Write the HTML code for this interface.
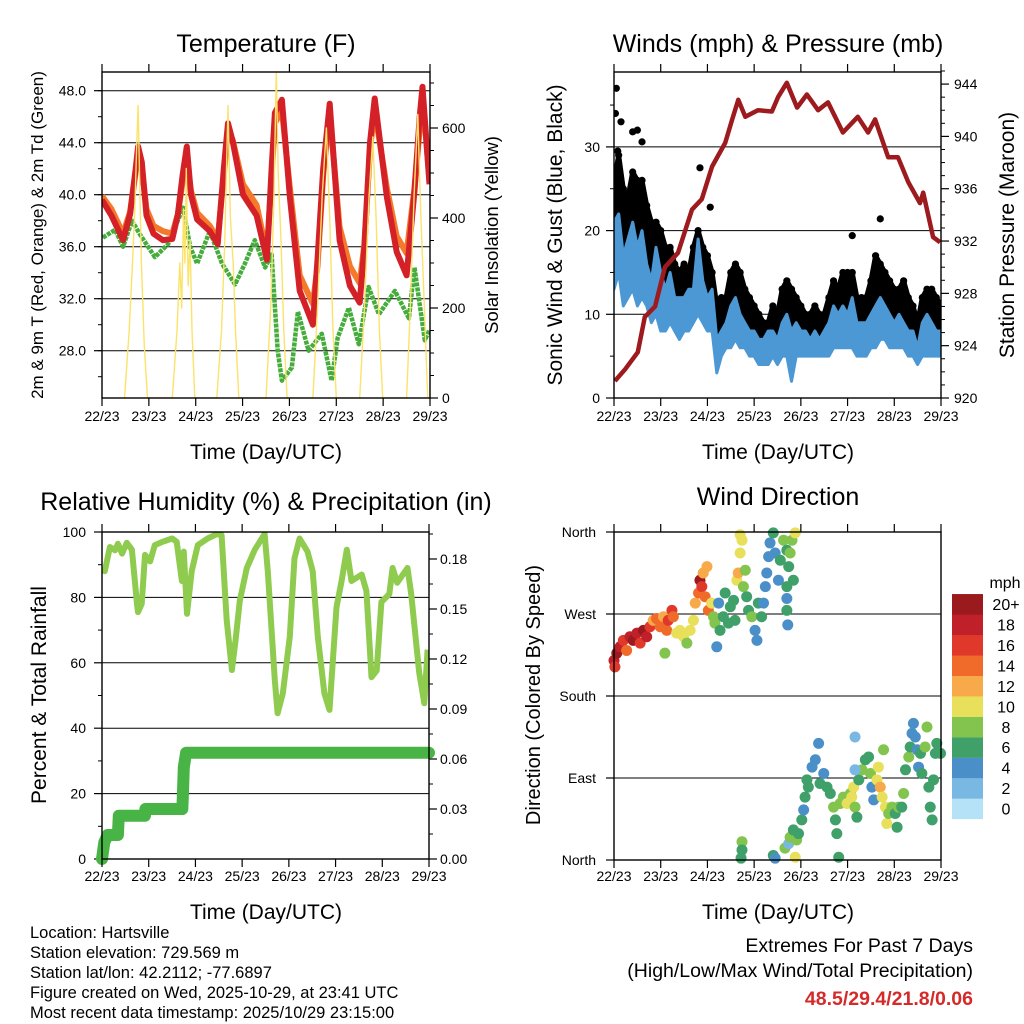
<!DOCTYPE html>
<html><head><meta charset="utf-8"><style>
html,body{margin:0;padding:0;background:#fff;}
svg{display:block;font-family:"Liberation Sans",Arial,sans-serif;}
</style></head><body>
<svg id="c" width="1024" height="1024" viewBox="0 0 1024 1024" xmlns="http://www.w3.org/2000/svg">
<defs>
<clipPath id="cp1"><rect x="102" y="72" width="328" height="326"/></clipPath>
<clipPath id="cp2"><rect x="614" y="72" width="327" height="326"/></clipPath>
<clipPath id="cp3"><rect x="102" y="532" width="327" height="327"/></clipPath>
<clipPath id="cp4"><rect x="608" y="526" width="339" height="340"/></clipPath>
</defs>
<text x="266" y="52" font-size="25" text-anchor="middle">Temperature (F)</text>
<text x="778" y="52" font-size="25" text-anchor="middle">Winds (mph) &amp; Pressure (mb)</text>
<text x="266" y="510" font-size="25" text-anchor="middle">Relative Humidity (%) &amp; Precipitation (in)</text>
<text x="778" y="505" font-size="25" text-anchor="middle">Wind Direction</text>
<text x="266" y="459" font-size="21" text-anchor="middle">Time (Day/UTC)</text>
<text x="778" y="459" font-size="21" text-anchor="middle">Time (Day/UTC)</text>
<text x="266" y="919" font-size="21" text-anchor="middle">Time (Day/UTC)</text>
<text x="778" y="919" font-size="21" text-anchor="middle">Time (Day/UTC)</text>
<text transform="translate(43,235) rotate(-90)" font-size="17" text-anchor="middle">2m &amp; 9m T (Red, Orange) &amp; 2m Td (Green)</text>
<text transform="translate(498,235) rotate(-90)" font-size="18.5" text-anchor="middle">Solar Insolation (Yellow)</text>
<text transform="translate(562,235) rotate(-90)" font-size="21" text-anchor="middle">Sonic Wind &amp; Gust (Blue, Black)</text>
<text transform="translate(1014,235) rotate(-90)" font-size="21" text-anchor="middle">Station Pressure (Maroon)</text>
<text transform="translate(46,695) rotate(-90)" font-size="21" text-anchor="middle">Percent &amp; Total Rainfall</text>
<text transform="translate(540,695) rotate(-90)" font-size="20" text-anchor="middle">Direction (Colored By Speed)</text>
<g font-size="16.5">
<text x="30" y="938">Location: Hartsville</text>
<text x="30" y="958">Station elevation: 729.569 m</text>
<text x="30" y="978">Station lat/lon: 42.2112; -77.6897</text>
<text x="30" y="998">Figure created on Wed, 2025-10-29, at 23:41 UTC</text>
<text x="30" y="1018">Most recent data timestamp: 2025/10/29 23:15:00</text>
</g>
<text x="973" y="952" font-size="19.5" text-anchor="end">Extremes For Past 7 Days</text>
<text x="973" y="977" font-size="19.5" text-anchor="end">(High/Low/Max Wind/Total Precipitation)</text>
<text x="973" y="1005" font-size="19.5" font-weight="bold" fill="#d42a2a" text-anchor="end">48.5/29.4/21.8/0.06</text>
<text x="1005" y="588" font-size="16" text-anchor="middle">mph</text>
</svg>
<script>
// ---------- data ----------
const dayLabels=["22/23","23/23","24/23","25/23","26/23","27/23","28/23","29/23"];
const tempTicks=[28,32,36,40,44,48];
const solarTicks=[0,200,400,600];
const windTicks=[0,10,20,30];
const pressTicks=[920,924,928,932,936,940,944];
const rhTicks=[0,20,40,60,80,100];
const precipTicks=[0,0.03,0.06,0.09,0.12,0.15,0.18];
const dirTickVals=[0,90,180,270,360];
const dirTickLabels=["North","East","South","West","North"];
const speedLabels=["0","2","4","6","8","10","12","14","16","18","20+"];
const speedColors=["#b6e2f8","#7ab8e4","#4a8fc8","#3fa06a","#82c44e","#e8e05a","#f8a94a","#f06a2a","#e0392b","#c0202a","#9b1a1d"];

const tempT=[0,0.2,0.45,0.6,0.72,0.77,0.85,0.95,1.1,1.3,1.5,1.62,1.72,1.81,1.9,2.03,2.3,2.47,2.6,2.69,2.79,3.01,3.3,3.52,3.62,3.69,3.84,4.01,4.22,4.5,4.6,4.72,4.86,5.07,5.29,5.5,5.6,5.72,5.82,6.08,6.29,6.5,6.67,6.78,6.84,6.99];
const temp2m=[39.6,38.4,36.5,38.5,42,43.7,42.5,38.4,37,36.5,36.6,38.5,41.5,43.7,40,38.1,37.2,36.2,42,45.5,44.1,40.0,38.4,35,42,46.3,47.3,39.8,32.6,30,35,42,47,36.5,33,31.7,36,44,47.4,39.8,35.6,33.8,40.3,46,48.3,40.8];
const temp9m=[39.9,38.9,37,38.7,41.8,42.8,42,38.9,37.6,37.2,37,38.5,41,42.5,40.3,38.6,37.6,36.6,41.5,45,44.2,40.8,39.2,35.5,41.5,45.5,46.5,40.5,33.8,31.6,34.5,41.5,46.3,37.5,34.5,33.2,36.2,43.5,46.5,40.5,36.8,35.5,40.5,45,47.8,41];
const dewT=[0.02,0.28,0.45,0.64,0.8,1.13,1.41,1.73,1.88,2.03,2.3,2.56,2.84,3.05,3.26,3.48,3.62,3.75,3.84,4.05,4.18,4.41,4.69,4.9,5.03,5.27,5.48,5.69,5.91,6.25,6.55,6.67,6.89,6.99];
const dewV=[36.7,37.3,36,38,37,35.2,36.2,39,36,34.7,37.2,34.7,33.1,34.7,36.5,34.4,35.4,28,25.7,26.7,31,28,29.3,25.7,29,31.3,28.5,32.9,30.8,32.6,30.5,34.4,28.8,29.6];
const solarT=[0.48,0.58,0.65,0.7,0.74,0.77,0.8,0.84,0.9,0.97,1.5,1.6,1.66,1.7,1.74,1.77,1.8,1.84,1.88,1.92,1.98,2.45,2.55,2.62,2.69,2.74,2.8,2.85,2.92,3.5,3.6,3.67,3.72,3.76,3.82,3.88,3.95,4.5,4.6,4.7,4.79,4.86,4.93,5.0,5.5,5.6,5.7,5.78,5.85,5.92,5.99,6.5,6.58,6.66,6.74,6.8,6.88,6.95];
const solarV=[0,150,300,420,560,650,500,300,120,0,0,150,300,200,420,300,510,250,350,150,0,0,150,350,650,400,300,150,0,0,200,450,730,500,350,150,0,0,200,450,600,400,150,0,0,200,450,580,400,150,0,0,200,450,630,420,200,0];

const pressT=[0.02,0.24,0.51,0.66,0.88,1.09,1.37,1.67,1.88,2.1,2.38,2.53,2.66,2.81,3.08,3.38,3.51,3.7,3.92,4.13,4.37,4.58,4.9,5.22,5.44,5.59,5.87,6.08,6.3,6.55,6.62,6.83,6.98];
const pressV=[921.3,922.2,923.5,926.2,927,930,931.1,934.4,935.2,937.7,939.5,941.3,942.8,941.5,942,941.9,943,944.1,942.2,943.2,942,942.6,940.3,941.5,940.3,941.3,938.4,938.4,936.5,934.9,935.7,932.3,931.9];
const windT=[0,0.1,0.2,0.3,0.4,0.5,0.6,0.7,0.8,0.9,1.0,1.1,1.2,1.3,1.4,1.5,1.6,1.7,1.8,1.9,2.0,2.1,2.2,2.3,2.4,2.5,2.6,2.7,2.8,2.9,3.0,3.1,3.2,3.3,3.4,3.5,3.6,3.7,3.8,3.9,4.0,4.1,4.2,4.3,4.4,4.5,4.6,4.7,4.8,4.9,5.0,5.1,5.2,5.3,5.4,5.5,5.6,5.7,5.8,5.9,6.0,6.1,6.2,6.3,6.4,6.5,6.6,6.7,6.8,6.9,7.0];
const windHi=[21,22,17,19,21,18,20,16,14,18,15,13,15,12,12,12,13,13,19,14,12,13,7,8,9,11,12,10,9,8,8,7,7,8,8,7,9,10,8,9,8,8,7,8,7,8,9,11,10,11,10,12,9,9,9,10,11,12,11,10,9,10,9,8,8,6,9,10,9,8,8];
const windLo=[13,15,11,12,13,11,12,11,9,10,8,8,9,8,7,8,8,9,10,9,8,8,3,5,6,6,7,6,6,5,5,4,4,4,5,4,5,5,2,5,5,5,5,5,5,5,5,6,6,6,6,6,5,5,5,6,6,7,7,6,6,6,6,5,5,4,5,5,5,5,5];
const gustHi=[26,29,25,24,27,26,26,23,21,21,20,18,18,16,15,16,15,18,20,18,17,15,11,12,12,15,16,15,13,12,11,10,9,9,11,10,13,14,13,12,11,10,10,11,10,10,12,14,13,15,15,15,12,12,12,14,17,16,15,14,13,13,14,12,11,9,12,13,13,12,11];
const gustOutT=[0.05,0.03,0.08,0.4,0.6,1.84,2.06,5.7,5.1,0.15,0.5];
const gustOutV=[37,34,29.5,31.8,30.6,27.5,22.8,21.4,19.4,33,32];

const rhT=[0,0.06,0.17,0.28,0.34,0.43,0.53,0.64,0.75,0.77,0.85,0.92,1.03,1.13,1.28,1.5,1.6,1.71,1.75,1.82,1.92,2.05,2.26,2.46,2.56,2.67,2.78,2.86,2.95,3.1,3.27,3.48,3.55,3.7,3.76,3.87,4.02,4.12,4.23,4.4,4.51,4.62,4.76,4.87,5.02,5.13,5.24,5.34,5.56,5.66,5.77,5.88,5.98,6.15,6.22,6.32,6.54,6.62,6.79,6.9,6.97];
const rhV=[88.4,88,95.4,94.4,96.4,93.4,96.7,94.6,78,75.5,78,93,91,96,96.9,98,97,85,94,75,88,96,98,99.4,99,73,57.8,67,79,89,94.6,99.4,88,54.7,44.6,50.6,68,92,98,94,88,68,50.6,45.6,77,85,94.6,85,87,82,55.6,57.6,78.6,81,89,84.5,89,81,57,47.6,64];
const precipT=[0,0.05,0.12,0.34,0.36,0.92,0.93,1.72,1.73,1.75,1.8,7.0];
const precipV=[0,0.01,0.0144,0.0144,0.026,0.026,0.03,0.03,0.037,0.055,0.0638,0.0638];

const dirT=[0.00,0.02,0.06,0.13,0.20,0.27,0.34,0.41,0.49,0.56,0.63,0.70,0.77,0.84,0.91,0.99,1.06,1.13,1.16,1.24,1.27,1.09,1.34,1.41,1.49,1.56,1.63,1.70,1.74,1.81,1.84,1.88,1.95,1.91,1.99,2.02,2.09,2.13,2.16,2.24,2.20,2.27,2.34,2.38,2.45,2.49,2.56,2.59,2.63,2.66,2.70,2.70,2.74,2.77,2.81,2.84,2.88,2.95,3.02,3.06,3.09,3.16,3.20,3.24,3.27,3.31,3.34,3.41,3.45,3.52,3.56,3.63,3.70,3.74,3.77,3.81,3.84,3.70,3.70,3.70,3.72,3.88,
2.74,2.74,2.72,3.41,3.45,3.66,3.74,3.77,3.84,3.88,3.91,3.95,4.02,4.06,4.09,4.13,4.16,4.24,4.31,4.38,4.41,4.49,4.56,4.63,4.70,4.74,4.77,4.81,4.84,4.91,4.99,5.06,5.13,5.09,5.16,5.20,5.24,5.31,5.38,5.45,5.49,5.52,5.56,5.63,5.66,5.70,5.74,5.77,5.81,5.84,5.88,5.95,6.02,6.06,6.09,6.16,6.20,6.24,6.31,6.34,6.38,6.41,6.45,6.49,6.52,6.56,6.59,6.66,6.70,6.74,6.77,6.81,6.84,6.88,6.91,6.99,5.16,5.16];
const dirD=[219,212,227,234,241,230,245,241,249,238,252,245,256,263,265,256,267,252,263,274,267,227,249,252,245,238,252,263,282,293,307,300,289,315,322,274,282,267,260,282,234,252,267,293,260,278,285,263,307,315,337,357,351,300,318,289,274,267,252,241,282,267,282,300,315,333,348,359,337,307,329,351,340,322,337,351,307,300,287,274,258,359,
20,11,2,5,2,13,18,25,33,3,22,29,44,55,69,88,80,102,110,128,84,95,80,73,58,44,29,3,62,69,62,73,80,69,58,47,88,99,110,113,95,80,66,88,102,80,69,121,58,40,51,58,51,36,58,58,73,99,113,124,139,150,135,121,102,117,95,124,146,80,58,44,88,117,128,117,135,99];
const dirS=[18,16,20,18,16,14,18,20,18,16,20,18,16,12,14,14,12,14,16,16,14,8,10,10,10,8,10,10,12,14,20,16,14,12,12,14,10,8,8,4,4,6,6,6,6,6,6,6,10,12,10,10,10,8,8,6,6,8,4,4,6,6,4,4,4,4,4,6,4,4,6,8,6,6,8,8,6,6,4,6,4,10,
8,6,6,6,4,8,2,8,6,10,8,6,6,4,6,6,6,4,4,4,6,4,6,6,8,6,6,6,8,8,10,8,10,10,8,6,6,8,6,6,8,4,4,10,10,12,10,8,10,10,8,8,6,6,8,6,8,6,8,6,4,4,4,4,4,6,6,8,8,6,6,6,6,6,6,6,2,2];

// ---------- helpers ----------
const NS="http://www.w3.org/2000/svg";
const svg=document.getElementById('c');
function mk(tag,attrs,parent){const e=document.createElementNS(NS,tag);for(const k in attrs)e.setAttribute(k,attrs[k]);(parent||svg).appendChild(e);return e;}
function pathOf(xs,ys){let d='';for(let i=0;i<xs.length;i++)d+=(i?'L':'M')+xs[i].toFixed(1)+','+ys[i].toFixed(1);return d;}
function xAxis(x0,x1,y0,y1,labY,name){
  const g=mk('g',{});
  
  
  for(let i=0;i<dayLabels.length;i++){
    const x=x0+(x1-x0)*i/7;
    mk('line',{x1:x,y1:y1,x2:x,y2:y1+8,stroke:'#000','stroke-width':1.2},g);
    mk('line',{x1:x,y1:y0,x2:x,y2:y0-8,stroke:'#000','stroke-width':1.2},g);
    const t=mk('text',{x:x,y:labY,'font-size':14,'text-anchor':'middle'},g);
    t.textContent=dayLabels[i];
    
    
  }
}
function frame(x0,y0,x1,y1,name){
  const r=mk('rect',{x:x0,y:y0,width:x1-x0,height:y1-y0,fill:'none',stroke:'#000','stroke-width':1.4});
  
  
}
function yTicks(vals,fy,xEdge,dir,labX,anchor,fmt,grid,gx0,gx1,name){
  const g=mk('g',{});
  
  
  for(const v of vals){
    const y=fy(v);
    if(grid) mk('line',{x1:gx0,y1:y,x2:gx1,y2:y,stroke:'#000','stroke-width':1},g);
    mk('line',{x1:xEdge,y1:y,x2:xEdge+dir*8,y2:y,stroke:'#000','stroke-width':1.2},g);
    const t=mk('text',{x:labX,y:y+5,'font-size':14,'text-anchor':anchor},g);
    t.textContent=fmt(v);
    
    
  }
}
function minor(vals,fy,xEdge,dir){
  for(const v of vals){const y=fy(v);mk('line',{x1:xEdge,y1:y,x2:xEdge+dir*4,y2:y,stroke:'#000','stroke-width':1});}
}

// ---------- Panel 1: temperature ----------
const sx1=t=>102+t*328/7;
const ty=T=>90.7+(48-T)*13;
const sy=S=>398-S*0.45;
yTicks(tempTicks,ty,102,-1,86,'end',v=>v.toFixed(1),true,102,430,'temp-y-axis');
yTicks(solarTicks,sy,430,1,442,'start',v=>String(v),false,0,0,'solar-y-axis');
{const m=[];for(let v=26;v<=49;v+=2)m.push(v);minor(m,ty,102,-1);
 const n=[];for(let v=50;v<=700;v+=50)n.push(v);minor(n,sy,430,1);}
const g1=mk('g',{'clip-path':'url(#cp1)'});
const dewLine=mk('path',{d:pathOf(dewT.map(sx1),dewV.map(ty)),fill:'none',stroke:'#46ac3c','stroke-width':4.5,'stroke-dasharray':'4 1','stroke-linejoin':'round'},g1);


const t9=mk('path',{d:pathOf(tempT.map(sx1),temp9m.map(ty)),fill:'none',stroke:'#f5792a','stroke-width':6,'stroke-linejoin':'round'},g1);


const t2=mk('path',{d:pathOf(tempT.map(sx1),temp2m.map(ty)),fill:'none',stroke:'#d42127','stroke-width':6,'stroke-linejoin':'round'},g1);


const sol=mk('path',{d:pathOf(solarT.map(sx1),solarV.map(sy)),fill:'none',stroke:'#fbe36a','stroke-width':1.4,'stroke-linejoin':'round'},g1);


frame(102,72,430,398,'temp-plot-frame');
xAxis(102,430,72,398,421,'temp-x-axis');

// ---------- Panel 2: winds & pressure ----------
const sx2=t=>614+t*327/7;
const wy=w=>398-w*8.37;
const py=p=>398-(p-920)*13.08;
yTicks(windTicks,wy,614,-1,600,'end',v=>String(v),true,614,941,'wind-y-axis');
yTicks(pressTicks,py,941,1,954,'start',v=>String(v),false,0,0,'pressure-y-axis');
minor([5,15,25,35],wy,614,-1);
{const n=[];for(let p=921;p<=945;p++)if(p%4)n.push(p);minor(n,py,941,1);}
const g2=mk('g',{'clip-path':'url(#cp2)'});
{
  const xs=windT.map(sx2);
  const gp=mk('path',{d:pathOf(xs,gustHi.map(wy))+pathOf(xs.slice().reverse(),windHi.map(v=>wy(v-1)).reverse()).replace('M','L')+'Z',fill:'#000',stroke:'#000','stroke-width':5,'stroke-linejoin':'round'},g2);
  
  
  for(let i=0;i<windT.length;i++){
    const c=mk('circle',{cx:xs[i],cy:wy(gustHi[i]),r:3.6,fill:'#000'},g2);
    
    
  }
  for(let i=0;i<gustOutT.length;i++){
    const c=mk('circle',{cx:sx2(gustOutT[i]),cy:wy(gustOutV[i]),r:3.6,fill:'#000'},g2);
    
    
  }
  const bp=mk('path',{d:pathOf(xs,windHi.map(wy))+pathOf(xs.slice().reverse(),windLo.slice().reverse().map(wy)).replace('M','L')+'Z',fill:'#4c98d4',stroke:'#4c98d4','stroke-width':3,'stroke-linejoin':'round'},g2);
  
  
  const pl=mk('path',{d:pathOf(pressT.map(sx2),pressV.map(py)),fill:'none',stroke:'#9d1b1e','stroke-width':4.5,'stroke-linejoin':'round'},g2);
  
  
}
frame(614,72,941,398,'winds-plot-frame');
xAxis(614,941,72,398,421,'winds-x-axis');

// ---------- Panel 3: humidity & precip ----------
const sx3=t=>102+t*327/7;
const hy=v=>859-v*3.27;
const qy=v=>859-v*1666.7;
yTicks(rhTicks,hy,102,-1,86,'end',v=>String(v),true,102,429,'rh-y-axis');
yTicks(precipTicks,qy,429,1,440,'start',v=>v.toFixed(2),false,0,0,'precip-y-axis');
minor([10,30,50,70,90],hy,102,-1);
minor([0.015,0.045,0.075,0.105,0.135,0.165,0.195],qy,429,1);
const g3=mk('g',{'clip-path':'url(#cp3)'});
const rl=mk('path',{d:pathOf(rhT.map(sx3),rhV.map(hy)),fill:'none',stroke:'#8fcb4e','stroke-width':6,'stroke-linejoin':'round'},g3);


const ql=mk('path',{d:pathOf(precipT.map(sx3),precipV.map(qy)),fill:'none',stroke:'#48b446','stroke-width':12,'stroke-linecap':'round','stroke-linejoin':'round'});


frame(102,532,429,859,'humidity-plot-frame');
xAxis(102,429,532,859,881,'humidity-x-axis');

// ---------- Panel 4: wind direction ----------
const sx4=t=>614+t*327/7;
const dy=d=>860-d*328/360;
yTicks(dirTickVals,dy,614,-1,596,'end',(v)=>dirTickLabels[dirTickVals.indexOf(v)],false,0,0,'direction-y-axis');
for(const v of [90,180,270]){const y=dy(v);mk('line',{x1:614,y1:y,x2:941,y2:y,stroke:'#000','stroke-width':1});}
const g4=mk('g',{'clip-path':'url(#cp4)'});
for(let i=0;i<dirT.length;i++){
  const idx=Math.min(10,Math.floor(dirS[i]/2));
  const c=mk('circle',{cx:sx4(dirT[i]),cy:dy(dirD[i]),r:5.5,fill:speedColors[idx]},g4);
  
  
}
frame(614,532,941,860,'direction-plot-frame');
xAxis(614,941,532,860,881,'direction-x-axis');

// colorbar
for(let i=0;i<speedLabels.length;i++){
  const y=819-(i+1)*20.45;
  const r=mk('rect',{x:952,y:y,width:31,height:20.6,fill:speedColors[i]});
  
  
  const t=mk('text',{x:1006,y:y+16,'font-size':16,'text-anchor':'middle'});
  t.textContent=speedLabels[i];
  
  
}
</script>
</body></html>
